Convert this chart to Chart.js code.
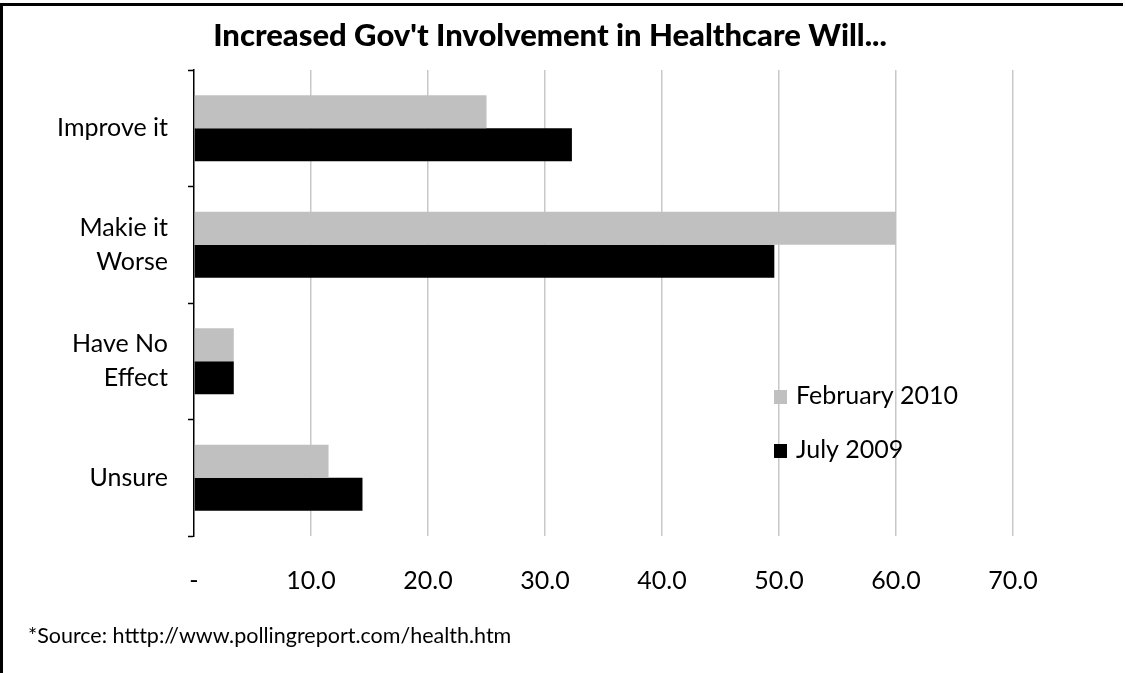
<!DOCTYPE html>
<html>
<head>
<meta charset="utf-8">
<script src="https://cdn.jsdelivr.net/npm/chart.js@4/dist/chart.umd.min.js"></script>
<style>
  html, body { margin: 0; padding: 0; background: #fff; }
  #wrap { position: relative; width: 1125px; height: 673px; }
</style>
</head>
<body>
<div id="wrap"><canvas id="c"></canvas></div>
<script>
const categories = ['Improve it', ['Makie it', 'Worse'], ['Have No', 'Effect'], 'Unsure'];
const seriesNames = ['February 2010', 'July 2009'];
const feb2010 = [25.0, 60.0, 3.4, 11.5];
const july2009 = [32.3, 49.6, 3.4, 14.4];
const xTicks = [0, 10, 20, 30, 40, 50, 60, 70];
const titleText = "Increased Gov't Involvement in Healthcare Will...";
const sourceText = '*Source: htttp://www.pollingreport.com/health.htm';

const FONT = 'Lato, "Open Sans", sans-serif';

const decor = {
  id: 'decor',
  beforeDraw(chart) {
    const c = chart.ctx;
    c.save();
    c.fillStyle = '#fff';
    c.fillRect(0, 0, chart.width, chart.height);
    c.fillStyle = '#000';
    c.fillRect(0, 3, 3, chart.height - 3);
    c.fillRect(0, 3, chart.width - 2, 3);
    c.restore();
  },
  afterDraw(chart) {
    const c = chart.ctx;
    c.save();
    // title
    c.font = '900 31px ' + FONT;
    c.textAlign = 'center';
    c.textBaseline = 'alphabetic';
    c.fillStyle = '#000';
    c.fillText(titleText, 550, 46);
    // legend
    const ds = chart.data.datasets;
    const lx = 774, ly = [397, 451];
    c.font = '25px ' + FONT;
    c.textBaseline = 'middle';
    c.textAlign = 'left';
    ds.forEach((d, i) => {
      c.fillStyle = d.backgroundColor;
      c.fillRect(lx, ly[i] - 7, 13, 14);
      c.fillStyle = '#000';
      c.fillText(d.label, lx + 22, ly[i] - 1);
    });
    // source
    c.font = '21.5px ' + FONT;
    c.textBaseline = 'alphabetic';
    c.fillStyle = '#000';
    c.fillText(sourceText, 28, 643);
    c.restore();
  }
};

new Chart(document.getElementById('c'), {
  type: 'bar',
  data: {
    labels: categories,
    datasets: [
      { label: seriesNames[0], data: feb2010, backgroundColor: '#c0c0c0', borderWidth: 0,
        categoryPercentage: 0.567, barPercentage: 1.0 },
      { label: seriesNames[1], data: july2009, backgroundColor: '#000000', borderWidth: 0,
        categoryPercentage: 0.567, barPercentage: 1.0 }
    ]
  },
  options: {
    indexAxis: 'y',
    responsive: true,
    maintainAspectRatio: false,
    animation: false,
    layout: { padding: { left: 0, right: 112, top: 70, bottom: 0 } },
    plugins: {
      legend: { display: false },
      tooltip: { enabled: false },
      title: { display: false }
    },
    scales: {
      x: {
        min: xTicks[0],
        max: xTicks[xTicks.length - 1],
        afterBuildTicks(scale) { scale.ticks = xTicks.map(v => ({ value: v })); },
        afterFit(scale) { scale.height = 137; },
        border: { display: false },
        grid: {
          drawTicks: false,
          color: (ctx) => (ctx.tick && ctx.tick.value === 0) ? 'rgba(0,0,0,0)' : '#c8c8c8',
          lineWidth: 1.5
        },
        ticks: {
          padding: 30,
          color: '#000',
          font: { family: FONT, size: 25 },
          callback: (v) => v === 0 ? '-' : Number(v).toFixed(1)
        }
      },
      y: {
        afterFit(scale) { scale.width = 194; },
        border: { display: true, color: '#000', width: 1.5 },
        grid: {
          offset: true,
          drawOnChartArea: false,
          drawTicks: true,
          tickLength: 6,
          tickColor: '#000',
          tickWidth: 1.5
        },
        ticks: {
          padding: 20,
          color: '#000',
          font: { family: FONT, size: 25, lineHeight: 1.36 }
        }
      }
    }
  },
  plugins: [decor]
});
</script>
</body>
</html>
